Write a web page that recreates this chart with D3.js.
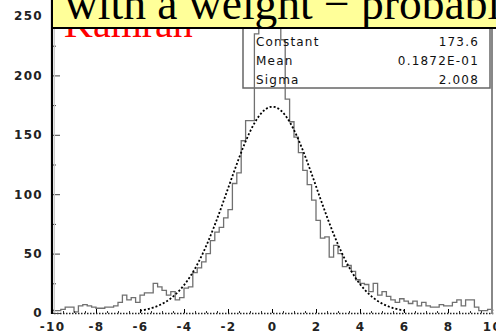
<!DOCTYPE html>
<html>
<head>
<meta charset="utf-8">
<script src="https://cdn.jsdelivr.net/npm/d3@7"></script>
<style>
  body { margin: 0; background: #fff; }
  svg { display: block; }
  .tick text { font-family: "DejaVu Sans", sans-serif; font-weight: bold; font-size: 12px; letter-spacing: 1.3px; fill: #222; }
  .stats text { font-family: "DejaVu Sans", sans-serif; font-size: 12px; letter-spacing: 1.2px; fill: #111; }
</style>
</head>
<body>
<div id="chart"></div>
<script>
// histogram: 100 bins of width 0.2 from -10 to 10
const binStart = -10;
const binWidth = 0.2;
const counts = [
  2, 2, 3, 5, 5, 1, 6, 7, 6, 5,
  4, 4, 5, 5, 6, 9, 15, 11, 13, 9,
  15, 17, 17, 25, 22, 19, 15, 18, 11, 13,
  21, 22, 34, 38, 43, 50, 61, 68, 72, 80,
  87, 109, 118, 145, 162, 162, 235, 262, 268, 272,
  265, 258, 230, 180, 161, 148, 135, 120, 108, 95,
  78, 63, 64, 47, 57, 50, 39, 40, 35, 28,
  25, 24, 18, 25, 15, 18, 14, 11, 9, 12,
  10, 8, 10, 6, 9, 6, 5, 5, 7, 6,
  6, 9, 11, 6, 11, 11, 5, 2, 2, 3
];

// gaussian fit
const fitNames = [`Constant`, `Mean`, `Sigma`];
const fitLabels = [`173.6`, `0.1872E-01`, `2.008`];
const fitConst = 173.6, fitMean = 0.01872, fitSigma = 2.008;
const fitRange = [-6, 6];

const xTicks = [-10, -8, -6, -4, -2, 0, 2, 4, 6, 8, 10];
const yTicks = [0, 50, 100, 150, 200, 250];

const titleText = `with a weight \u2212 probably`;
const nameText = `Kamran`;

const W = 496, H = 333;
const svg = d3.select(`#chart`).append(`svg`)
  .attr(`width`, W).attr(`height`, H);

const x = d3.scaleLinear().domain([-10, 10]).range([52, 492]);
const y = d3.scaleLinear().domain([0, 250]).range([313, 16]);

svg.append(`defs`).append(`clipPath`).attr(`id`, `plotclip`)
  .append(`rect`).attr(`x`, 52).attr(`y`, 0).attr(`width`, 440).attr(`height`, 314);

// red name, mostly hidden under the title box
svg.append(`text`)
  .attr(`x`, 64).attr(`y`, 37)
  .attr(`font-family`, `"Liberation Serif", serif`)
  .attr(`font-size`, 40)
  .attr(`fill`, `#ff0000`)
  .text(nameText);

// stats box
svg.append(`rect`)
  .attr(`x`, 243).attr(`y`, 10).attr(`width`, 247).attr(`height`, 78)
  .attr(`fill`, `#fff`).attr(`stroke`, `#666`).attr(`stroke-width`, 1.5);

// histogram outline
const step = [[x(binStart), y(0)]];
counts.forEach((c, i) => {
  const x0 = x(binStart + i * binWidth), x1 = x(binStart + (i + 1) * binWidth);
  step.push([x0, y(c)], [x1, y(c)]);
});
step.push([x(binStart + counts.length * binWidth), y(0)]);

svg.append(`path`)
  .attr(`clip-path`, `url(#plotclip)`)
  .attr(`d`, d3.line()(step))
  .attr(`fill`, `none`)
  .attr(`stroke`, `#707070`)
  .attr(`stroke-width`, 1.3);

// fit curve
const gx = d3.range(fitRange[0], fitRange[1] + 0.001, 0.05);
svg.append(`path`)
  .attr(`d`, d3.line()
    .x(d => x(d))
    .y(d => y(fitConst * Math.exp(-0.5 * Math.pow((d - fitMean) / fitSigma, 2))))(gx))
  .attr(`fill`, `none`)
  .attr(`stroke`, `#000`)
  .attr(`stroke-width`, 1.8)
  .attr(`stroke-dasharray`, `2,2`);

// stats text
const stats = svg.append(`g`).attr(`class`, `stats`);
fitNames.forEach((n, i) => {
  stats.append(`text`).attr(`x`, 256).attr(`y`, 46 + i * 19).text(n);
  stats.append(`text`).attr(`x`, 479).attr(`y`, 46 + i * 19)
    .attr(`text-anchor`, `end`).text(fitLabels[i]);
});

// axes
const xMinor = svg.append(`g`).attr(`transform`, `translate(0,313)`)
  .call(d3.axisBottom(x).tickValues(d3.range(-10, 10.01, 0.5)).tickSize(-2).tickFormat(``));
xMinor.select(`.domain`).remove();
xMinor.selectAll(`line`).attr(`stroke`, `#333`);

const xAxis = svg.append(`g`).attr(`transform`, `translate(0,313)`)
  .call(d3.axisBottom(x).tickValues(xTicks).tickSize(-4).tickPadding(9).tickFormat(d => String(d)));
xAxis.select(`.domain`).attr(`stroke`, `#222`).attr(`stroke-width`, 1.5).attr(`stroke-dasharray`, `1.5,1.5`);

const yMinor = svg.append(`g`).attr(`transform`, `translate(52,0)`)
  .call(d3.axisLeft(y).tickValues(d3.range(25, 250, 50)).tickSize(-4).tickFormat(``));
yMinor.select(`.domain`).remove();
yMinor.selectAll(`line`).attr(`stroke`, `#444`);

const yAxis = svg.append(`g`).attr(`transform`, `translate(52,0)`)
  .call(d3.axisLeft(y).tickValues(yTicks).tickSize(-8).tickPadding(9));
yAxis.select(`.domain`).remove();
yAxis.selectAll(`line`).attr(`stroke`, `#444`);

// frame lines
svg.append(`line`).attr(`x1`, 52).attr(`x2`, 52).attr(`y1`, 0).attr(`y2`, 314)
  .attr(`stroke`, `#000`).attr(`stroke-width`, 2.2);
svg.append(`line`).attr(`x1`, 54.5).attr(`x2`, 54.5).attr(`y1`, 0).attr(`y2`, 312)
  .attr(`stroke`, `#ccc`).attr(`stroke-width`, 1);
svg.append(`line`).attr(`x1`, 492).attr(`x2`, 492).attr(`y1`, 0).attr(`y2`, 314)
  .attr(`stroke`, `#888`).attr(`stroke-width`, 2);

// title box
svg.append(`rect`)
  .attr(`x`, 52).attr(`y`, -10).attr(`width`, 460).attr(`height`, 38)
  .attr(`fill`, `#ffff99`).attr(`stroke`, `#000`).attr(`stroke-width`, 2);
svg.append(`text`)
  .attr(`x`, 65).attr(`y`, 19)
  .attr(`font-family`, `"Liberation Serif", serif`)
  .attr(`font-size`, 45.5)
  .attr(`fill`, `#000`)
  .text(titleText);
</script>
</body>
</html>
